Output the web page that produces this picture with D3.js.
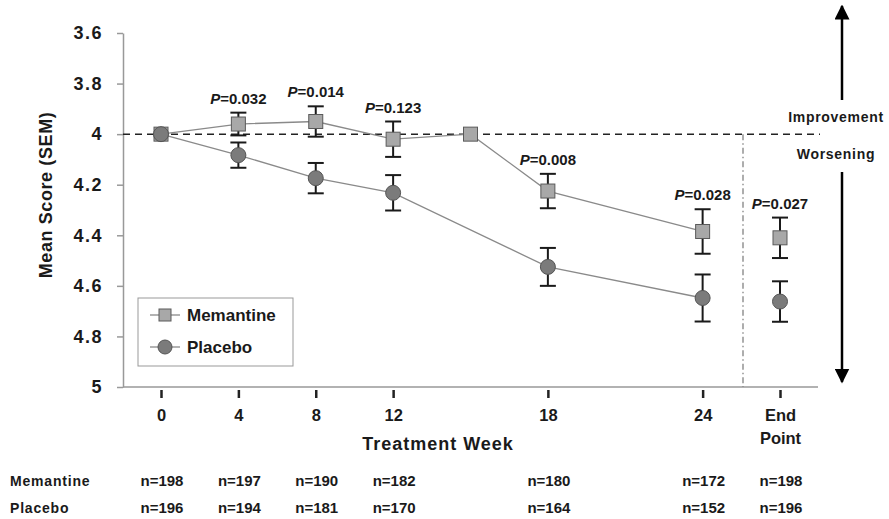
<!DOCTYPE html>
<html>
<head>
<meta charset="utf-8">
<script src="https://cdn.jsdelivr.net/npm/d3@7"></script>
<style>
  body { margin: 0; background: #fff; }
  text { font-family: "Liberation Sans", Arial, sans-serif; font-weight: bold; fill: #1a1a1a; }
</style>
</head>
<body>
<svg id="chart" width="889" height="519"></svg>
<script>
// x positions on an ordinal-like grid (18 and 24 are spaced two steps)
var tickPos = [0, 1, 2, 3, 5, 7, 8];
var tickLabels = ["0", "4", "8", "12", "18", "24", "End|Point"];

// memantine (includes the stray point between 12 and 18 without SEM)
var memPos  = [0, 1, 2, 3, 4, 5, 7, 8];
var memMean = [4.0, 3.96, 3.95, 4.02, 4.0, 4.225, 4.385, 4.41];
var memSem  = [0, 0.045, 0.06, 0.07, null, 0.068, 0.088, 0.08];
var memLine = [true, true, true, true, true, true, true, false];

var plaPos  = [0, 1, 2, 3, 5, 7, 8];
var plaMean = [4.0, 4.083, 4.174, 4.232, 4.525, 4.648, 4.662];
var plaSem  = [0, 0.05, 0.06, 0.07, 0.075, 0.093, 0.08];
var plaLine = [true, true, true, true, true, true, false];

var pPos    = [1, 2, 3, 5, 7, 8];
var pLabels = ["0.032", "0.014", "0.123", "0.008", "0.028", "0.027"];
var pAnchor = [3.96, 3.95, 4.02, 4.225, 4.385, 4.41];   // memantine means
var pSem    = [0.045, 0.06, 0.07, 0.068, 0.088, 0.08];

var nMem = ["n=198", "n=197", "n=190", "n=182", "n=180", "n=172", "n=198"];
var nPla = ["n=196", "n=194", "n=181", "n=170", "n=164", "n=152", "n=196"];

var yTicks = [3.6, 3.8, 4, 4.2, 4.4, 4.6, 4.8, 5];

var svg = d3.select("#chart");
var x = d3.scaleLinear().domain([0, 8]).range([161, 780]);
var y = d3.scaleLinear().domain([3.6, 5]).range([33, 387]);
var axisX = 123, rightEnd = 818;
var FONT = "Liberation Sans, Arial, sans-serif";

// y axis
var yAxis = svg.append("g")
    .attr("transform", "translate(" + axisX + ",0)")
    .call(d3.axisLeft(y).tickValues(yTicks).tickSize(6).tickSizeOuter(0).tickPadding(14)
        .tickFormat(function(d) { return (d === 4 || d === 5) ? d : d.toFixed(1); }));
yAxis.select(".domain").attr("stroke", "#999").attr("stroke-width", 1.5);
yAxis.selectAll(".tick line").attr("stroke", "#999").attr("stroke-width", 1.5);
yAxis.selectAll(".tick text").style("font-size", "18px").style("font-weight", "bold")
    .style("letter-spacing", "1.5px").style("font-family", FONT).attr("fill", "#1a1a1a");

// bottom line
svg.append("line").attr("x1", axisX).attr("x2", rightEnd).attr("y1", y(5)).attr("y2", y(5))
    .attr("stroke", "#999").attr("stroke-width", 1.5);

// x ticks
var xAxis = svg.append("g")
    .attr("transform", "translate(0," + (y(5) + 3) + ")")
    .call(d3.axisBottom(x).tickValues(tickPos).tickSize(8).tickPadding(11)
        .tickFormat(function() { return ""; }));
xAxis.select(".domain").remove();
xAxis.selectAll(".tick line").attr("stroke", "#222").attr("stroke-width", 2.5);
xAxis.selectAll(".tick").each(function(d, i) {
  var parts = tickLabels[i].split("|");
  var t = d3.select(this).select("text").text(null)
      .style("font-size", "16.5px").style("font-weight", "bold")
      .style("font-family", FONT).attr("fill", "#1a1a1a");
  parts.forEach(function(p, k) {
    t.append("tspan").attr("x", 0).attr("dy", k === 0 ? "0.71em" : "1.4em").text(p);
  });
});

// axis titles
svg.append("text").attr("x", 438).attr("y", 450).attr("text-anchor", "middle")
    .style("font-size", "18px").style("letter-spacing", "1px").text("Treatment Week");
svg.append("text").attr("transform", "translate(52,195) rotate(-90)").attr("text-anchor", "middle")
    .style("font-size", "18px").style("letter-spacing", "0.6px").text("Mean Score (SEM)");

// reference lines
svg.append("line").attr("x1", axisX).attr("x2", 820).attr("y1", y(4)).attr("y2", y(4))
    .attr("stroke", "#222").attr("stroke-width", 1.5).attr("stroke-dasharray", "7,5");
svg.append("line").attr("x1", 743).attr("x2", 743).attr("y1", y(4)).attr("y2", y(5))
    .attr("stroke", "#777").attr("stroke-width", 1.2).attr("stroke-dasharray", "6,3,1.5,3");

// direction arrows
var defs = svg.append("defs");
defs.append("marker").attr("id", "ah").attr("viewBox", "0 0 10 10").attr("refX", 9).attr("refY", 5)
    .attr("markerWidth", 6).attr("markerHeight", 6).attr("markerUnits", "strokeWidth").attr("orient", "auto")
  .append("path").attr("d", "M0,0L10,5L0,10Z").attr("fill", "#000");
svg.append("line").attr("x1", 842).attr("x2", 842).attr("y1", 100).attr("y2", 6)
    .attr("stroke", "#000").attr("stroke-width", 2.5).attr("marker-end", "url(#ah)");
svg.append("line").attr("x1", 842).attr("x2", 842).attr("y1", 172).attr("y2", 382)
    .attr("stroke", "#000").attr("stroke-width", 2.5).attr("marker-end", "url(#ah)");
svg.append("text").attr("x", 836).attr("y", 122).attr("text-anchor", "middle")
    .style("font-size", "14px").style("letter-spacing", "0.7px").text("Improvement");
svg.append("text").attr("x", 836).attr("y", 159).attr("text-anchor", "middle")
    .style("font-size", "14px").style("letter-spacing", "0.7px").text("Worsening");

function pts(pos, mean, sem, conn) {
  return pos.map(function(p, i) { return { p: p, m: mean[i], s: sem[i], c: conn[i] }; });
}
var mem = pts(memPos, memMean, memSem, memLine);
var pla = pts(plaPos, plaMean, plaSem, plaLine);

var line = d3.line().x(function(d) { return x(d.p); }).y(function(d) { return y(d.m); });

[mem, pla].forEach(function(s) {
  svg.append("path").datum(s.filter(function(d) { return d.c; }))
      .attr("fill", "none").attr("stroke", "#8a8a8a").attr("stroke-width", 1.3).attr("d", line);
});

function errorBars(s) {
  var g = svg.append("g").attr("stroke", "#1a1a1a").attr("stroke-width", 2);
  s.filter(function(d) { return d.s; }).forEach(function(d) {
    var cx = x(d.p), y0 = y(d.m - d.s), y1 = y(d.m + d.s);
    g.append("line").attr("x1", cx).attr("x2", cx).attr("y1", y0).attr("y2", y1);
    g.append("line").attr("x1", cx - 8).attr("x2", cx + 8).attr("y1", y0).attr("y2", y0);
    g.append("line").attr("x1", cx - 8).attr("x2", cx + 8).attr("y1", y1).attr("y2", y1);
  });
}
errorBars(mem);
errorBars(pla);

svg.append("g").selectAll("rect").data(mem).enter().append("rect")
    .attr("x", function(d) { return x(d.p) - 7; }).attr("y", function(d) { return y(d.m) - 7; })
    .attr("width", 14).attr("height", 14)
    .attr("fill", "#a8a8a8").attr("stroke", "#5a5a5a").attr("stroke-width", 1);
svg.append("g").selectAll("circle").data(pla).enter().append("circle")
    .attr("cx", function(d) { return x(d.p); }).attr("cy", function(d) { return y(d.m); })
    .attr("r", 7.5).attr("fill", "#7b7b7b").attr("stroke", "#555").attr("stroke-width", 1);

// P values
pPos.forEach(function(p, i) {
  var t = svg.append("text").attr("x", x(p)).attr("y", y(pAnchor[i] - pSem[i]) - 9)
      .attr("text-anchor", "middle").style("font-size", "15px");
  t.append("tspan").style("font-style", "italic").text("P");
  t.append("tspan").text("=" + pLabels[i]);
});

// legend
var lg = svg.append("g");
lg.append("rect").attr("x", 138).attr("y", 298).attr("width", 155).attr("height", 68)
    .attr("fill", "#fff").attr("stroke", "#999").attr("stroke-width", 1);
lg.append("line").attr("x1", 150).attr("x2", 180).attr("y1", 315).attr("y2", 315).attr("stroke", "#8a8a8a").attr("stroke-width", 1.3);
lg.append("rect").attr("x", 159).attr("y", 309).attr("width", 12).attr("height", 12)
    .attr("fill", "#a8a8a8").attr("stroke", "#5a5a5a");
lg.append("line").attr("x1", 150).attr("x2", 180).attr("y1", 347).attr("y2", 347).attr("stroke", "#8a8a8a").attr("stroke-width", 1.3);
lg.append("circle").attr("cx", 165).attr("cy", 347).attr("r", 7).attr("fill", "#7b7b7b").attr("stroke", "#555");
lg.append("text").attr("x", 187).attr("y", 321).style("font-size", "17px").text("Memantine");
lg.append("text").attr("x", 187).attr("y", 353).style("font-size", "17px").text("Placebo");

// n table
svg.append("text").attr("x", 10).attr("y", 486).style("font-size", "14px").style("letter-spacing", "0.8px").text("Memantine");
svg.append("text").attr("x", 10).attr("y", 513).style("font-size", "14px").style("letter-spacing", "0.8px").text("Placebo");
tickPos.forEach(function(p, i) {
  svg.append("text").attr("x", x(p) + 1).attr("y", 486).attr("text-anchor", "middle").style("font-size", "15px").text(nMem[i]);
  svg.append("text").attr("x", x(p) + 1).attr("y", 513).attr("text-anchor", "middle").style("font-size", "15px").text(nPla[i]);
});
</script>
</body>
</html>
